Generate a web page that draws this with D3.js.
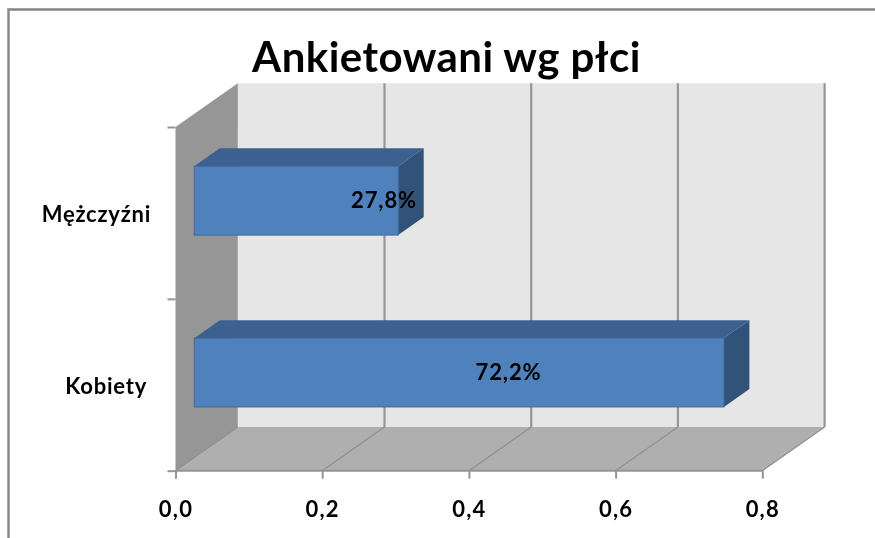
<!DOCTYPE html>
<html lang="pl">
<head>
<meta charset="utf-8">
<script src="https://cdn.jsdelivr.net/npm/d3@7/dist/d3.min.js"></script>
<style>
html,body{margin:0;padding:0;background:#fff;overflow:hidden}
svg{display:block;filter:blur(0.45px)}
text{font-family:Lato,"Open Sans",sans-serif;font-weight:700;fill:#000}
</style>
</head>
<body>
<svg id="chart" width="875" height="538"></svg>
<script>
const titleText = "Ankietowani wg płci";
const categories = ["Mężczyźni", "Kobiety"];
const values = [0.278, 0.722];
const valueLabels = ["27,8%", "72,2%"];
const xTicks = [0, 0.2, 0.4, 0.6, 0.8];

const svg = d3.select("#chart");
const plot = {left: 175.5, right: 762.3, top: 127, bottom: 470.7};
const depth = {dx: 62.3, dy: -43.7};
const barDepth = {dx: 25.5, dy: -18};
const barShift = {dx: 18.8, dy: -12.2};
const labelX = [384, 508.5];
const labelDy = [-0.5, 0];

const x = d3.scaleLinear().domain([0, 0.8]).range([plot.left, plot.right]);
const y = d3.scaleBand().domain(categories).range([plot.top, plot.bottom]).paddingInner(0.6).paddingOuter(0.3);
const yEdges = d3.scaleLinear().domain([0, categories.length]).range([plot.top, plot.bottom]);
const poly = pts => pts.map(p => p.join(",")).join(" ");

// frame
svg.append("path").attr("d", "M8.5,538V9.5H875").attr("fill", "none").attr("stroke", "#858585").attr("stroke-width", 2.4);

// back wall
svg.append("polygon").attr("fill", "#e6e6e6").attr("points", poly([
  [plot.left + depth.dx, plot.top + depth.dy], [plot.right + depth.dx, plot.top + depth.dy],
  [plot.right + depth.dx, plot.bottom + depth.dy], [plot.left + depth.dx, plot.bottom + depth.dy]]));
// side wall
svg.append("polygon").attr("fill", "#969696").attr("points", poly([
  [plot.left, plot.top], [plot.left + depth.dx, plot.top + depth.dy],
  [plot.left + depth.dx, plot.bottom + depth.dy], [plot.left, plot.bottom]]));
// floor
svg.append("polygon").attr("fill", "#afafaf").attr("points", poly([
  [plot.left, plot.bottom], [plot.left + depth.dx, plot.bottom + depth.dy],
  [plot.right + depth.dx, plot.bottom + depth.dy], [plot.right, plot.bottom]]));

// gridlines
const grid = svg.append("g");
grid.selectAll("line.back").data(xTicks.slice(1)).join("line").attr("class", "back")
  .attr("x1", d => x(d) + depth.dx).attr("x2", d => x(d) + depth.dx)
  .attr("y1", plot.top + depth.dy).attr("y2", plot.bottom + depth.dy)
  .attr("stroke", "#969696").attr("stroke-width", 2.2);
grid.selectAll("line.floor").data(xTicks).join("line").attr("class", "floor")
  .attr("x1", d => x(d)).attr("x2", d => x(d) + depth.dx)
  .attr("y1", plot.bottom).attr("y2", plot.bottom + depth.dy)
  .attr("stroke", "#8f8f8f").attr("stroke-width", 1.3);

// axes
const xAxis = d3.axisBottom(x).tickValues(xTicks).tickSize(8).tickPadding(23)
  .tickFormat(d => d3.format(".1f")(d).replace(".", ","));
const gx = svg.append("g").attr("transform", `translate(0,${plot.bottom})`).call(xAxis);
const yEdgeAxis = d3.axisLeft(yEdges).tickValues(d3.range(categories.length + 1)).tickSize(8).tickFormat("");
const gy = svg.append("g").attr("transform", `translate(${plot.left},0)`).call(yEdgeAxis);
[gx, gy].forEach(g => {
  g.selectAll("path.domain").attr("stroke", "none");
  g.selectAll(".tick line").attr("stroke", "#949494").attr("stroke-width", 2);
});
svg.append("line").attr("x1", plot.left).attr("x2", plot.right).attr("y1", plot.bottom).attr("y2", plot.bottom)
  .attr("stroke", "#949494").attr("stroke-width", 2);
gx.selectAll("text").attr("font-size", 22).attr("font-family", "Lato").attr("fill", "#000")
  .attr("letter-spacing", 1.2).attr("dx", 0);

// category labels
const gc = svg.append("g").attr("transform", `translate(151,0)`)
  .call(d3.axisLeft(y).tickSize(0).tickPadding(0));
gc.select("path.domain").remove();
gc.selectAll("text").attr("font-size", 22).attr("font-family", "Lato").attr("fill", "#000")
  .attr("letter-spacing", 0.75)
  .attr("dy", "0.32em").attr("dx", (d, i) => i === 1 ? -4 : 0)
  .attr("y", 2);

// bars
const bars = svg.append("g").selectAll("g").data(categories).join("g");
bars.each(function (c, i) {
  const g = d3.select(this);
  const x0 = x(0) + barShift.dx, x1 = x0 + (x(values[i]) - x(0));
  const y0 = y(c) + barShift.dy, y1 = y0 + y.bandwidth();
  g.append("polygon").attr("fill", "#3c6191").attr("points", poly([
    [x0, y0], [x0 + barDepth.dx, y0 + barDepth.dy], [x1 + barDepth.dx, y0 + barDepth.dy], [x1, y0]]));
  g.append("polygon").attr("fill", "#325379").attr("points", poly([
    [x1, y0], [x1 + barDepth.dx, y0 + barDepth.dy], [x1 + barDepth.dx, y1 + barDepth.dy], [x1, y1]]));
  g.append("rect").attr("x", x0).attr("y", y0).attr("width", x1 - x0).attr("height", y1 - y0)
    .attr("fill", "#4f81bd").attr("stroke", "#41699b").attr("stroke-width", 1);
  g.append("text").attr("x", labelX[i]).attr("y", (y0 + y1) / 2 + labelDy[i]).attr("dy", "0.35em")
    .attr("text-anchor", "middle").attr("font-size", 22).attr("letter-spacing", 0.9).text(valueLabels[i]);
});

// title
svg.append("text").attr("x", 446.5).attr("y", 71.5).attr("text-anchor", "middle")
  .attr("font-size", 42).attr("letter-spacing", 0.45).text(titleText);
</script>
</body>
</html>
